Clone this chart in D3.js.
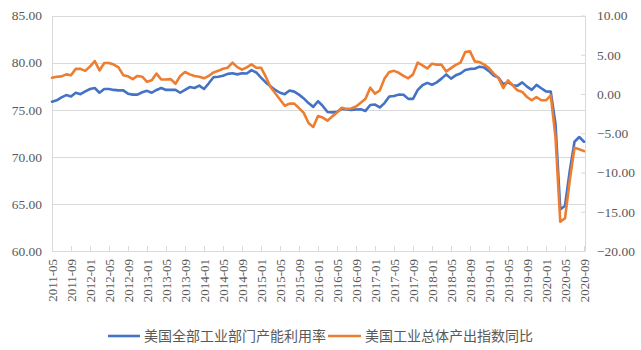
<!DOCTYPE html>
<html>
<head>
<meta charset="utf-8">
<script src="https://cdn.jsdelivr.net/npm/d3@7"></script>
<style>
  html,body{margin:0;padding:0;background:#fff;}
  svg{display:block;}
</style>
</head>
<body>
<svg id="chart" width="641" height="350"></svg>
<script>
const months = [
  "2011-05","2011-06","2011-07","2011-08","2011-09","2011-10","2011-11","2011-12",
  "2012-01","2012-02","2012-03","2012-04","2012-05","2012-06","2012-07","2012-08","2012-09","2012-10","2012-11","2012-12",
  "2013-01","2013-02","2013-03","2013-04","2013-05","2013-06","2013-07","2013-08","2013-09","2013-10","2013-11","2013-12",
  "2014-01","2014-02","2014-03","2014-04","2014-05","2014-06","2014-07","2014-08","2014-09","2014-10","2014-11","2014-12",
  "2015-01","2015-02","2015-03","2015-04","2015-05","2015-06","2015-07","2015-08","2015-09","2015-10","2015-11","2015-12",
  "2016-01","2016-02","2016-03","2016-04","2016-05","2016-06","2016-07","2016-08","2016-09","2016-10","2016-11","2016-12",
  "2017-01","2017-02","2017-03","2017-04","2017-05","2017-06","2017-07","2017-08","2017-09","2017-10","2017-11","2017-12",
  "2018-01","2018-02","2018-03","2018-04","2018-05","2018-06","2018-07","2018-08","2018-09","2018-10","2018-11","2018-12",
  "2019-01","2019-02","2019-03","2019-04","2019-05","2019-06","2019-07","2019-08","2019-09","2019-10","2019-11","2019-12",
  "2020-01","2020-02","2020-03","2020-04","2020-05","2020-06","2020-07","2020-08","2020-09"
];

// 美国全部工业部门产能利用率 (left axis)
const capacityUtil = [
  75.85,76.0,76.3,76.55,76.4,76.8,76.65,76.95,
  77.2,77.3,76.8,77.2,77.2,77.1,77.05,77.05,76.7,76.6,76.6,76.85,
  77.0,76.8,77.1,77.3,77.1,77.1,77.1,76.8,77.1,77.4,77.3,77.55,
  77.2,77.8,78.45,78.5,78.6,78.8,78.87,78.75,78.87,78.84,79.2,78.95,
  78.4,77.9,77.5,77.1,76.8,76.65,77.03,76.92,76.6,76.2,75.7,75.3,
  75.9,75.4,74.75,74.72,74.78,75.08,75.03,74.98,75.02,75.05,74.87,75.5,
  75.55,75.24,75.7,76.4,76.45,76.6,76.58,76.15,76.15,77.1,77.6,77.85,
  77.65,77.9,78.3,78.75,78.3,78.65,78.85,79.22,79.33,79.35,79.57,79.47,
  79.1,78.62,78.4,77.7,77.92,77.6,77.55,77.9,77.45,77.1,77.63,77.28,
  76.95,76.92,73.5,64.4,64.8,68.5,71.6,72.1,71.6
];

// 美国工业总体产出指数同比 (right axis)
const ipYoY = [
  2.08,2.2,2.25,2.5,2.4,3.2,3.2,2.95,
  3.5,4.2,3.0,3.95,3.95,3.75,3.4,2.4,2.25,1.9,2.3,2.2,
  1.55,1.75,2.6,1.85,1.85,1.9,1.3,2.3,2.8,2.5,2.3,2.2,
  2.0,2.3,2.75,2.95,3.22,3.35,4.0,3.43,3.1,3.4,3.77,3.35,
  3.35,2.2,0.9,0.1,-0.7,-1.5,-1.22,-1.22,-1.8,-2.4,-3.7,-4.2,
  -2.8,-3.0,-3.4,-2.85,-2.35,-1.75,-1.9,-1.85,-1.6,-1.1,-0.6,0.8,
  0.05,0.45,1.96,2.8,2.95,2.7,2.3,2.0,2.5,4.0,3.65,3.25,
  3.86,3.74,3.74,2.88,3.3,3.7,4.0,5.34,5.43,4.16,4.07,3.74,
  3.3,2.59,2.03,0.77,1.74,1.1,0.47,0.26,-0.38,-0.8,-0.38,-0.8,
  -0.8,-0.17,-5.5,-16.26,-15.83,-11.0,-6.86,-7.03,-7.28
];

const leftTicks = [60,65,70,75,80,85];
const rightTicks = [-20,-15,-10,-5,0,5,10];
const xTickLabels = months.filter((m,i) => i % 4 === 0);
const seriesNames = ["美国全部工业部门产能利用率","美国工业总体产出指数同比"];
const colors = ["#4472C4","#ED7D31"];

(function draw(){
const svg = d3.select("#chart");
const pLeft = 52, pRight = 584, pTop = 15.5, pBottom = 251;
const axisColor = "#d9d9d9", textColor = "#595959";
const numFont = "'Liberation Serif','Times New Roman',serif";
const cjkFont = "'Noto Sans CJK SC','Noto Sans',sans-serif";

const x = d3.scalePoint().domain(months).range([pLeft, pRight]);
const yL = d3.scaleLinear().domain([60,85]).range([pBottom, pTop]);
const yR = d3.scaleLinear().domain([-20,10]).range([pBottom, pTop]);

// gridlines
svg.append("g").selectAll("line").data(leftTicks).join("line")
  .attr("x1", pLeft).attr("x2", pRight + 1)
  .attr("y1", d => Math.round(yL(d)) + 0.5).attr("y2", d => Math.round(yL(d)) + 0.5)
  .attr("stroke", axisColor).attr("stroke-width", 1);

// left axis
const gL = svg.append("g").attr("transform", `translate(${pLeft},0)`)
  .call(d3.axisLeft(yL).tickValues(leftTicks).tickSize(0).tickPadding(10).tickFormat(d3.format(".2f")));
gL.select(".domain").attr("stroke", axisColor);
gL.selectAll("text").attr("fill", textColor).style("font-family", numFont).style("font-size", "13.5px");

// right axis
const gR = svg.append("g").attr("transform", `translate(${pRight + 1},0)`)
  .call(d3.axisRight(yR).tickValues(rightTicks).tickSizeInner(-4).tickSizeOuter(0).tickPadding(12).tickFormat(d3.format(".2f")));
gR.select(".domain").attr("stroke", axisColor);
gR.selectAll(".tick line").attr("stroke", axisColor);
gR.selectAll("text").attr("fill", textColor).style("font-family", numFont).style("font-size", "13.5px");

// x axis
const gX = svg.append("g").attr("transform", `translate(0,${pBottom})`)
  .call(d3.axisBottom(x).tickValues(xTickLabels).tickSizeInner(-5).tickSizeOuter(0).tickPadding(0));
gX.select(".domain").attr("stroke", axisColor);
gX.selectAll(".tick line").attr("stroke", axisColor);
gX.selectAll("text")
  .attr("transform", "rotate(-90)")
  .attr("x", -8).attr("y", 0).attr("dy", "0.35em")
  .attr("text-anchor", "end")
  .attr("fill", textColor).style("font-family", numFont).style("font-size", "13px");

// lines
const lineL = d3.line().x((d,i) => x(months[i])).y(d => yL(d));
const lineR = d3.line().x((d,i) => x(months[i])).y(d => yR(d));
svg.append("path").datum(capacityUtil).attr("d", lineL)
  .attr("fill","none").attr("stroke", colors[0]).attr("stroke-width", 2.6)
  .attr("stroke-linejoin","round").attr("stroke-linecap","round");
svg.append("path").datum(ipYoY).attr("d", lineR)
  .attr("fill","none").attr("stroke", colors[1]).attr("stroke-width", 2.6)
  .attr("stroke-linejoin","round").attr("stroke-linecap","round");

// legend
const legendY = 336;
const legendItems = [{x0:108, x1:140, tx:144}, {x0:328, x1:361, tx:365}];
legendItems.forEach((it, k) => {
  svg.append("line").attr("x1", it.x0).attr("x2", it.x1).attr("y1", legendY).attr("y2", legendY)
    .attr("stroke", colors[k]).attr("stroke-width", 2.6);
  svg.append("text").attr("x", it.tx).attr("y", legendY).attr("dy","0.35em")
    .attr("fill", textColor).style("font-family", cjkFont).style("font-size","14px")
    .text(seriesNames[k]);
});
})();
</script>
</body>
</html>
